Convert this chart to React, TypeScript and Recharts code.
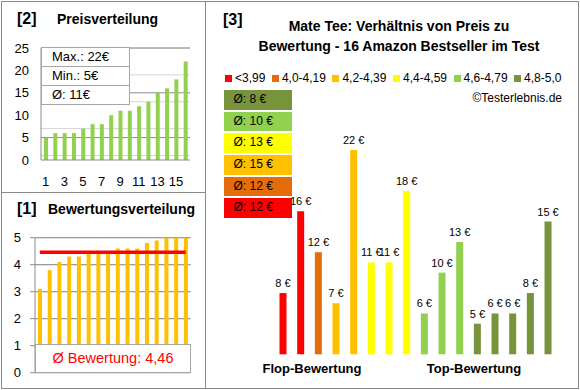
import React from "react";
import { BarChart, Bar, ComposedChart, Line, XAxis, YAxis, CartesianGrid, Cell, LabelList } from "recharts";

// products ordered by rating (same order in [1] and [3])
const ratings = [3.1, 3.8, 4.1, 4.3, 4.3, 4.4, 4.4, 4.5, 4.6, 4.6, 4.6, 4.8, 4.9, 5.0, 5.0, 5.0];
const prices = [8, 16, 12, 7, 22, 11, 11, 18, 6, 10, 13, 5, 6, 6, 8, 15];

const binLabels = ["<3,99", "4,0-4,19", "4,2-4,39", "4,4-4,59", "4,6-4,79", "4,8-5,0"];
const binLower = [0, 4.0, 4.2, 4.4, 4.6, 4.8];
const binColors = ["#FF0000", "#E46C0A", "#FFC000", "#FFFF00", "#92D050", "#77933C"];

const priceTicks = [0, 5, 10, 15, 20, 25];
const ratingTicks = [0, 1, 2, 3, 4, 5];
const groupLabels = ["Flop-Bewertung", "Top-Bewertung"];

const FONT = "'Liberation Sans', Arial, sans-serif";
const BORDER = "#8a8a8a";
const MAJOR = "#8c8c8c";
const MINOR = "#d4d4d4";

const binOf = (r: number) => {
  let b = 0;
  binLower.forEach((lo, i) => {
    if (r >= lo) b = i;
  });
  return b;
};

const avg = (xs: number[]) => xs.reduce((a, b) => a + b, 0) / xs.length;

const ratingAvg = avg(ratings);
const priceAvg = avg(prices);

const ratingData = ratings.map((r, i) => ({ name: String(i + 1), rating: r, avg: ratingAvg }));
const priceData = [...prices].sort((a, b) => a - b).map((p, i) => ({ name: String(i + 1), price: p }));
const productData = prices.map((p, i) => ({ name: String(i + 1), price: p, bin: binOf(ratings[i]) }));

const binAverages = binLabels.map((_, b) => Math.round(avg(productData.filter((d) => d.bin === b).map((d) => d.price))));

const minorPrice = Array.from({ length: 26 }, (_, i) => i);
const minorRating = Array.from({ length: 26 }, (_, i) => +(i * 0.2).toFixed(1));

const abs = (left: number, top: number, extra: React.CSSProperties = {}): React.CSSProperties => ({
  position: "absolute",
  left,
  top,
  ...extra,
});

export default function App() {
  const tick = { fill: "#000", fontSize: 13 };
  return (
    <div style={{ position: "absolute", left: 0, top: 0, width: 580, height: 390, background: "#fff", fontFamily: FONT, color: "#000" }}>
      <div style={abs(1, 1, { width: 578, height: 388, boxSizing: "border-box", border: `1px solid ${BORDER}` })} />
      <div style={abs(205, 1, { width: 1, height: 388, background: BORDER })} />
      <div style={abs(1, 192, { width: 205, height: 1, background: BORDER })} />

      {/* [2] Preisverteilung */}
      <div style={abs(17, 10, { fontSize: 16, fontWeight: "bold" })}>[2]</div>
      <div style={abs(57, 11, { fontSize: 14, fontWeight: "bold" })}>Preisverteilung</div>
      <div style={abs(0, 0)}>
        <BarChart width={205} height={192} data={priceData} margin={{ top: 48, right: 15, bottom: 0, left: 0 }} barCategoryGap="10%">
          <CartesianGrid vertical={false} horizontalValues={minorPrice} stroke={MINOR} />
          <CartesianGrid vertical={false} horizontalValues={priceTicks} stroke={MAJOR} />
          <XAxis dataKey="name" height={32} interval={1} tickSize={0} tickMargin={17} tickLine={false} axisLine={{ stroke: MAJOR }} tick={tick} />
          <YAxis width={41} domain={[0, 25]} ticks={priceTicks} tickSize={0} tickMargin={12} tickLine={false} axisLine={{ stroke: MAJOR }} tick={tick} />
          <Bar dataKey="price" fill="#92D050" barSize={4} isAnimationActive={false} />
        </BarChart>
      </div>
      <div style={abs(41, 47, { width: 89, boxSizing: "border-box", border: "1px solid #a6a6a6", background: "#fff", fontSize: 13 })}>
        {[`Max.: ${Math.max(...prices)}€`, `Min.: ${Math.min(...prices)}€`, `Ø: ${Math.round(priceAvg)}€`].map((t, i) => (
          <div key={t} style={{ height: 18, lineHeight: "18px", paddingLeft: 10, borderTop: i ? "1px solid #a6a6a6" : "none" }}>
            {t}
          </div>
        ))}
      </div>

      {/* [1] Bewertungsverteilung */}
      <div style={abs(17, 200, { fontSize: 16, fontWeight: "bold" })}>[1]</div>
      <div style={abs(48, 201, { fontSize: 14, fontWeight: "bold" })}>Bewertungsverteilung</div>
      <div style={abs(0, 192)}>
        <ComposedChart width={205} height={196} data={ratingData} margin={{ top: 45.7, right: 14.4, bottom: 15.3, left: 0 }} barCategoryGap="10%">
          <CartesianGrid vertical={false} horizontalValues={minorRating} stroke={MINOR} />
          <CartesianGrid vertical={false} horizontalValues={ratingTicks} stroke={MAJOR} />
          <XAxis dataKey="name" hide />
          <YAxis width={35} domain={[0, 5]} ticks={ratingTicks} tickSize={5} tickMargin={9} tickLine={{ stroke: MAJOR }} axisLine={{ stroke: MAJOR }} tick={tick} />
          <Bar dataKey="rating" fill="#FFC000" barSize={4} isAnimationActive={false} />
          <Line dataKey="avg" stroke="#FF0000" strokeWidth={3.5} dot={false} activeDot={false} isAnimationActive={false} />
        </ComposedChart>
      </div>
      <div style={abs(35, 344, { width: 156, height: 29, boxSizing: "border-box", border: "1px solid #a6a6a6", background: "#fff", color: "#FF0000", fontSize: 14.5, lineHeight: "27px", textAlign: "center" })}>
        Ø Bewertung: {ratingAvg.toFixed(2).replace(".", ",")}
      </div>

      {/* [3] Preis zu Bewertung */}
      <div style={abs(223, 11, { fontSize: 16, fontWeight: "bold" })}>[3]</div>
      <div style={abs(205, 16, { width: 388, fontSize: 14, fontWeight: "bold", textAlign: "center", lineHeight: "20px" })}>
        Mate Tee: Verhältnis von Preis zu
        <br />
        Bewertung - 16 Amazon Bestseller im Test
      </div>
      <div style={abs(225, 70, { display: "flex", gap: 6.5, fontSize: 12, lineHeight: "16px", whiteSpace: "nowrap" })}>
        {binLabels.map((l, i) => (
          <div key={l} style={{ display: "flex", alignItems: "center", gap: 3 }}>
            <span style={{ width: 7, height: 7, background: binColors[i], display: "inline-block" }} />
            <span>{l}</span>
          </div>
        ))}
      </div>
      <div style={abs(400, 90, { width: 162, textAlign: "right", fontSize: 12, lineHeight: "16px" })}>©Testerlebnis.de</div>
      <div style={abs(223.5, 90, { width: 68 })}>
        {binColors
          .map((c, i) => ({ c, v: binAverages[i] }))
          .reverse()
          .map(({ c, v }, i) => (
            <div key={i} style={{ height: 19.7, marginBottom: 2, background: c, fontSize: 12, lineHeight: "19.7px", paddingLeft: 10 }}>
              Ø: {v} €
            </div>
          ))}
      </div>
      <div style={abs(205, 0)}>
        <BarChart width={373} height={388} data={productData} margin={{ top: 129.7, right: 20.8, bottom: 33.7, left: 69.5 }} barCategoryGap="10%">
          <XAxis dataKey="name" hide />
          <YAxis hide domain={[2, 24]} />
          <Bar dataKey="price" barSize={7} isAnimationActive={false}>
            {productData.map((d) => (
              <Cell key={d.name} fill={binColors[d.bin]} />
            ))}
            <LabelList dataKey="price" position="top" offset={6} fill="#000" fontSize={11} formatter={(v: any) => `${v}\u00a0€`} />
          </Bar>
        </BarChart>
      </div>
      {groupLabels.map((g, i) => (
        <div key={g} style={abs(i === 0 ? 262 : 424, 361, { width: 100, textAlign: "center", fontSize: 13, fontWeight: "bold" })}>
          {g}
        </div>
      ))}
    </div>
  );
}
